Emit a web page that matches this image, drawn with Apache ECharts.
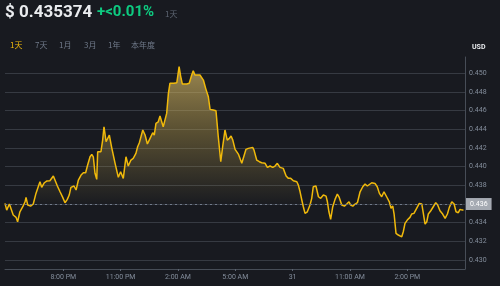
<!DOCTYPE html>
<html>
<head>
<meta charset="utf-8">
<script src="https://cdn.jsdelivr.net/npm/echarts@6/dist/echarts.min.js"></script>
<style>
html,body{margin:0;padding:0;background:#181A20;}
#chart{width:500px;height:286px;}
</style>
</head>
<body>
<div id="chart"></div>
<script>
// hours since 00:00 of day 30
var times = [16.95,17.04,17.18,17.26,17.38,17.53,17.61,17.73,17.88,18.0,18.05,18.14,18.29,18.43,18.57,18.69,18.78,18.87,19.01,19.13,19.3,19.39,19.48,19.57,19.69,19.83,19.97,20.09,20.21,20.31,20.4,20.49,20.56,20.67,20.79,20.93,21.05,21.17,21.26,21.4,21.49,21.57,21.66,21.75,21.8,21.88,21.97,22.06,22.13,22.24,22.32,22.41,22.53,22.71,22.88,23.0,23.14,23.28,23.4,23.54,23.66,23.8,23.89,23.98,24.16,24.28,24.4,24.54,24.68,24.76,24.85,24.97,25.06,25.15,25.23,25.32,25.41,25.5,25.58,25.67,25.79,25.94,26.06,26.14,26.23,26.46,26.59,26.72,26.8,26.89,26.98,27.15,27.33,27.45,27.59,27.68,27.85,27.99,28.11,28.24,28.34,28.46,28.58,28.69,28.78,28.87,28.99,29.16,29.34,29.42,29.56,29.68,29.77,29.91,29.98,30.12,30.26,30.38,30.56,30.68,30.82,30.96,31.08,31.2,31.34,31.51,31.66,31.78,31.9,32.04,32.22,32.3,32.39,32.48,32.56,32.65,32.77,32.91,33.0,33.08,33.22,33.35,33.47,33.61,33.75,33.82,33.9,33.99,34.1,34.22,34.34,34.44,34.57,34.71,34.83,34.95,35.04,35.15,35.27,35.39,35.53,35.67,35.79,35.91,36.01,36.14,36.31,36.43,36.54,36.66,36.78,36.92,37.06,37.15,37.24,37.31,37.41,37.53,37.62,37.71,37.79,37.88,38.0,38.14,38.23,38.35,38.49,38.63,38.76,38.84,38.93,39.02,39.1,39.23,39.36,39.49,39.59,39.71,39.85,39.98,40.1,40.2,40.33,40.45,40.55,40.67,40.76,40.88,40.94];
var prices = [0.43607,0.43535,0.43600,0.43589,0.43482,0.43457,0.43410,0.43517,0.43571,0.43624,0.43671,0.43589,0.43578,0.43600,0.43714,0.43785,0.43839,0.43779,0.43828,0.43846,0.43849,0.43828,0.43900,0.43886,0.43793,0.43731,0.43671,0.43614,0.43650,0.43696,0.43779,0.43768,0.43793,0.43750,0.43857,0.43910,0.43935,0.43935,0.44007,0.44106,0.44132,0.44106,0.43929,0.43864,0.44160,0.44178,0.44160,0.44285,0.44428,0.44267,0.44267,0.44339,0.44207,0.44036,0.43886,0.43946,0.43875,0.44106,0.44007,0.44071,0.44089,0.44143,0.44214,0.44256,0.44393,0.44339,0.44243,0.44304,0.44364,0.44339,0.44464,0.44481,0.44543,0.44481,0.44428,0.44446,0.44571,0.44786,0.44893,0.44910,0.44893,0.44899,0.45071,0.44971,0.44885,0.44885,0.44893,0.44982,0.45028,0.44982,0.44993,0.44982,0.44928,0.44839,0.44749,0.44614,0.44607,0.44599,0.44321,0.44053,0.44214,0.44393,0.44285,0.44304,0.44328,0.44285,0.44186,0.44135,0.44036,0.44018,0.44186,0.44196,0.44186,0.44207,0.44178,0.44071,0.44053,0.44042,0.44036,0.43993,0.44007,0.43993,0.44007,0.44036,0.43993,0.43982,0.43900,0.43875,0.43875,0.43849,0.43839,0.43803,0.43731,0.43643,0.43571,0.43500,0.43517,0.43589,0.43661,0.43785,0.43793,0.43678,0.43661,0.43696,0.43685,0.43624,0.43517,0.43436,0.43571,0.43650,0.43707,0.43671,0.43589,0.43578,0.43600,0.43624,0.43589,0.43578,0.43600,0.43614,0.43731,0.43785,0.43814,0.43793,0.43814,0.43828,0.43821,0.43785,0.43714,0.43678,0.43731,0.43678,0.43624,0.43554,0.43578,0.43493,0.43286,0.43268,0.43278,0.43249,0.43303,0.43393,0.43428,0.43457,0.43493,0.43500,0.43554,0.43607,0.43600,0.43500,0.43385,0.43410,0.43493,0.43528,0.43571,0.43614,0.43589,0.43528,0.43493,0.43446,0.43493,0.43564,0.43624,0.43600,0.43517,0.43507,0.43543,0.43535,0.43537];
var xTickValues = [20,23,26,29,32,35,38];
var xTickLabels = ['8:00 PM','11:00 PM','2:00 AM','5:00 AM','31','11:00 AM','2:00 PM'];
var yTickValues = [0.430,0.432,0.434,0.436,0.438,0.440,0.442,0.444,0.446,0.448,0.450];
var baseLine = 0.436;
var priceText = '$ 0.435374';
var changeText = '+<0.01%';
var periodText = '1天';
var tabs = ['1天','7天','1月','3月','1年','本年度'];
var tabX = [10,35,59,84,108,131];

var data = times.map(function(t,i){return [t, prices[i]];});
var chart = echarts.init(document.getElementById('chart'), null, {renderer:'canvas'});
var graphics = [
  {type:'text', left:5, top:4, style:{text:priceText, fill:'#EAECEF', font:'bold 17px Roboto, sans-serif'}},
  {type:'text', left:97, top:5, style:{text:changeText, fill:'#0ECB81', font:'bold 15px Roboto, sans-serif'}},
  {type:'text', left:165, top:10, style:{text:periodText, fill:'#5E6673', font:'8px "Noto Sans CJK SC", sans-serif'}},
  {type:'text', left:472, top:44, style:{text:'USD', fill:'#EAECEF', font:'bold 7px Roboto, sans-serif'}}
];
tabs.forEach(function(t,i){
  graphics.push({type:'text', left:tabX[i], top:41, style:{text:t, fill: i===0 ? '#F0B90B' : '#707A8A', font:'8px "Noto Sans CJK SC", sans-serif'}});
});

chart.setOption({
  backgroundColor:'#181A20',
  animation:false,
  graphic: graphics,
  grid:{left:5, right:35, top:57, bottom:17, containLabel:false},
  xAxis:{
    type:'value', min:16.95, max:41.02,
    axisLine:{show:true, lineStyle:{color:'#474D57'}},
    axisTick:{show:true, customValues:xTickValues, length:2, lineStyle:{color:'#5E6673'}},
    axisLabel:{customValues:xTickValues, color:'#848E9C', fontSize:7, margin:5, fontFamily:'Roboto, sans-serif',
      formatter:function(v){var i = xTickValues.indexOf(Math.round(v)); return i>=0 ? xTickLabels[i] : '';}},
    splitLine:{show:false}
  },
  yAxis:{
    type:'value', position:'right', min:0.42904, max:0.45175,
    axisLine:{show:true, lineStyle:{color:'#474D57'}},
    axisTick:{show:false, customValues:yTickValues},
    axisLabel:{customValues:yTickValues, color:'#848E9C', fontSize:7, margin:4, fontFamily:'Roboto, sans-serif',
      formatter:function(v){return v.toFixed(3);}},
    splitLine:{show:true, lineStyle:{color:'#363A42', width:1}}
  },
  series:[{
    type:'line', data:data, showSymbol:false, symbol:'none',
    lineStyle:{color:'#F0B90B', width:1.5},
    areaStyle:{
      origin: baseLine,
      color: new echarts.graphic.LinearGradient(0, 66, 0, 204, [
        {offset:0, color:'rgba(232,200,110,0.9)'},
        {offset:0.5, color:'rgba(200,170,80,0.5)'},
        {offset:1, color:'rgba(200,170,80,0.02)'}
      ], true)
    },
    markLine:{
      silent:true, symbol:'none', precision:6,
      lineStyle:{color:'#707A8A', type:[2,3], width:1},
      label:{show:true, position:'end', distance:1, formatter:function(){return baseLine.toFixed(3);},
        backgroundColor:'#A5AAB2', color:'#FFFFFF', fontSize:7, padding:[3,4,2,4], fontFamily:'Roboto, sans-serif'},
      data:[{yAxis: baseLine}]
    }
  }]
});
</script>
</body>
</html>
